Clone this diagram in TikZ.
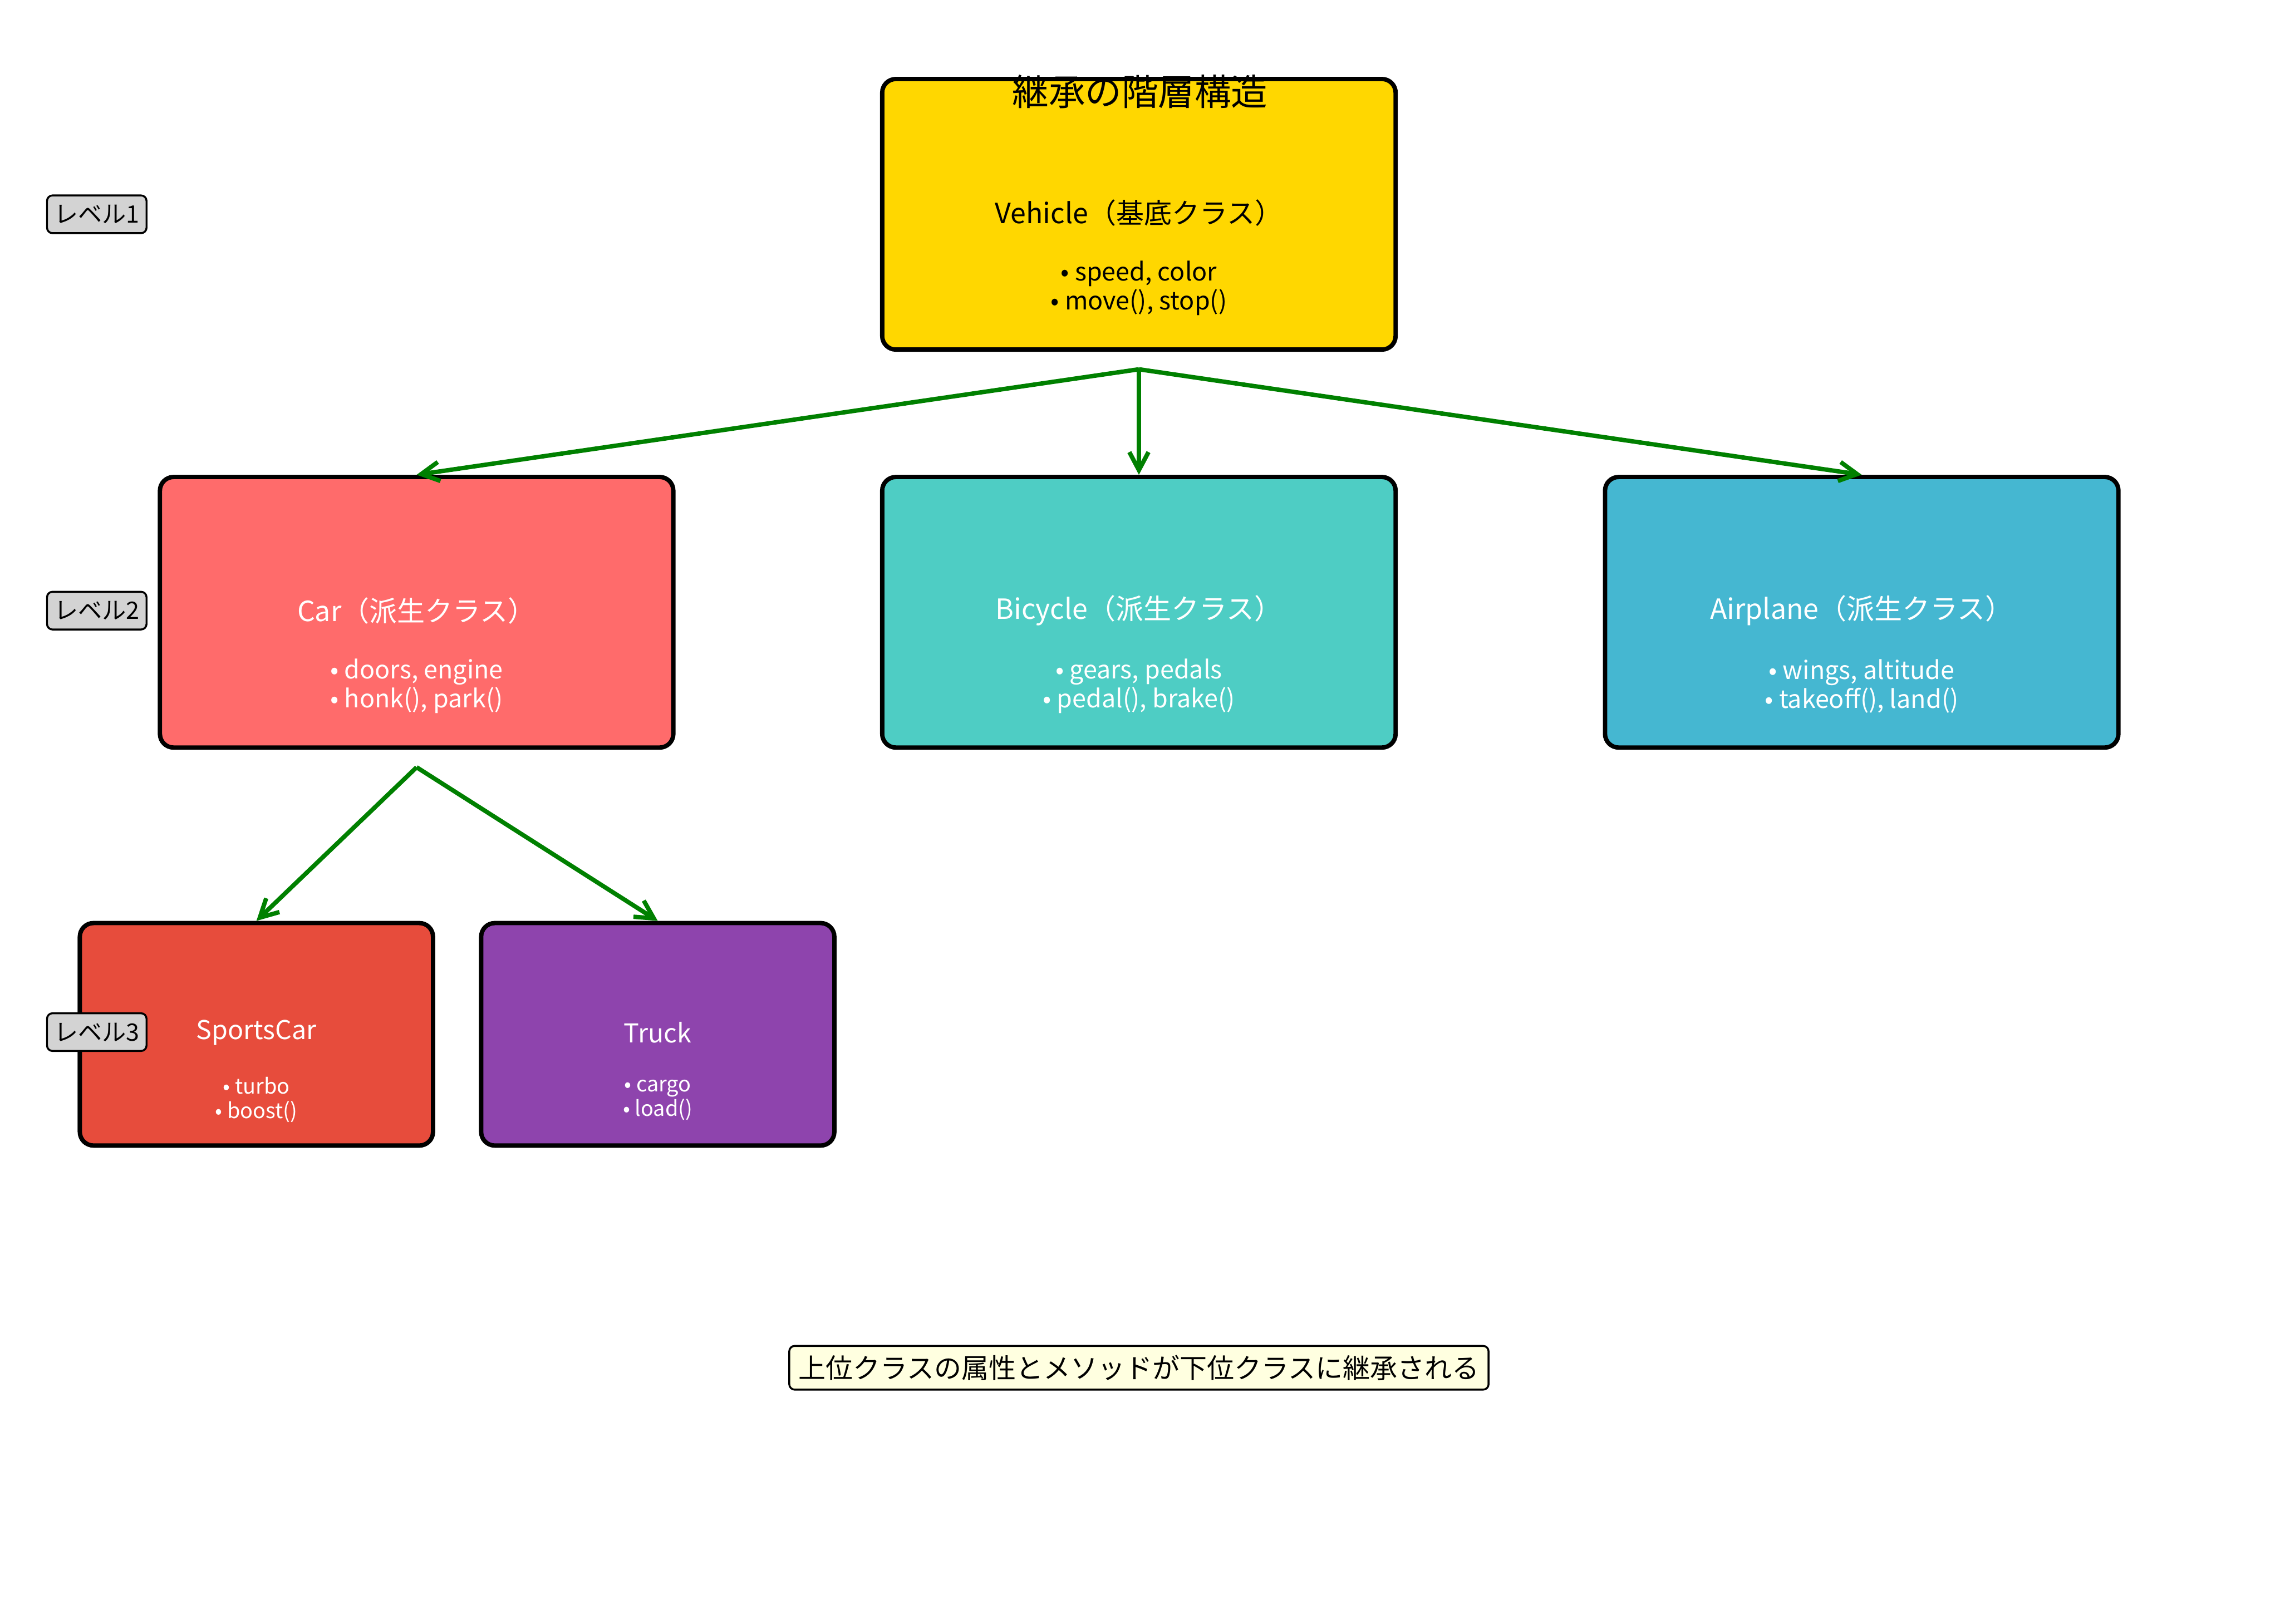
\documentclass[tikz,border=0pt]{standalone}
\usepackage{fontspec}
\setmainfont{Noto Sans CJK JP}
\usetikzlibrary{positioning,arrows.meta}

\definecolor{basegold}{HTML}{FFD700}
\definecolor{carred}{HTML}{FF6B6B}
\definecolor{bicycleteal}{HTML}{4ECDC4}
\definecolor{airplaneblue}{HTML}{45B7D1}
\definecolor{sportsred}{HTML}{E74C3C}
\definecolor{truckpurple}{HTML}{8E44AD}
\definecolor{arrowgreen}{HTML}{008000}
\definecolor{lvlgray}{HTML}{D3D3D3}
\definecolor{noteyellow}{HTML}{FFFFE0}

\begin{document}
\begin{tikzpicture}[
  cls/.style={draw, line width=0.8mm, rounded corners=2.5mm, minimum width=9.39cm, minimum height=4.95cm, inner sep=0pt},
  subcls/.style={cls, minimum width=6.46cm, minimum height=4.07cm},
  clsname/.style={font=\fontsize{14.5}{17}\selectfont},
  subname/.style={font=\fontsize{13.5}{16}\selectfont},
  members/.style={align=center, font=\fontsize{13}{15.1}\selectfont},
  submembers/.style={align=center, font=\fontsize{11}{12.8}\selectfont},
  lvl/.style={draw, fill=lvlgray, line width=0.35mm, rounded corners=1mm, minimum width=1.82cm, minimum height=0.69cm, inner sep=0pt, font=\fontsize{12.5}{14}\selectfont},
  inherit/.style={draw=arrowgreen, line width=0.8mm, -{Straight Barb[length=3.3mm,width=3.5mm]}}
]
% page size follows the reference (1 cm = 100 px)
\useasboundingbox (0,0) rectangle (41.7,-29.7);

% Column x-positions
\def\cA{7.62}
\def\cB{20.83}
\def\cC{34.05}
\def\cS{4.69}
\def\cT{12.03}

% Row y-positions (centres)
\def\rA{-3.92}
\def\rB{-11.20}
\def\rC{-18.92}

% Level 1: base class
\node[cls, fill=basegold] (vehicle) at (\cB,\rA) {};
\node[clsname] (vehicle-name) at ([yshift=0.03cm]vehicle.center) {Vehicle（基底クラス）};
\node[members] (vehicle-mem) at ([yshift=-1.35cm]vehicle.center) {• speed, color\\• move(), stop()};

% Level 2: derived classes
\node[cls, fill=carred] (car) at (\cA,\rB) {};
\node[clsname, text=white] (car-name) at ([yshift=0.03cm]car.center) {Car（派生クラス）};
\node[members, text=white] (car-mem) at ([yshift=-1.35cm]car.center) {• doors, engine\\• honk(), park()};

\node[cls, fill=bicycleteal] (bicycle) at (\cB,\rB) {};
\node[clsname, text=white] (bicycle-name) at ([yshift=0.03cm]bicycle.center) {Bicycle（派生クラス）};
\node[members, text=white] (bicycle-mem) at ([yshift=-1.35cm]bicycle.center) {• gears, pedals\\• pedal(), brake()};

\node[cls, fill=airplaneblue] (airplane) at (\cC,\rB) {};
\node[clsname, text=white] (airplane-name) at ([yshift=0.03cm]airplane.center) {Airplane（派生クラス）};
\node[members, text=white] (airplane-mem) at ([yshift=-1.35cm]airplane.center) {• wings, altitude\\• takeoff(), land()};

% Level 3: subclasses of Car
\node[subcls, fill=sportsred] (sportscar) at (\cS,\rC) {};
\node[subname, text=white] (sportscar-name) at ([yshift=0.03cm]sportscar.center) {SportsCar};
\node[submembers, text=white] (sportscar-mem) at ([yshift=-1.2cm]sportscar.center) {• turbo\\• boost()};

\node[subcls, fill=truckpurple] (truck) at (\cT,\rC) {};
\node[subname, text=white] (truck-name) at ([yshift=0.03cm]truck.center) {Truck};
\node[submembers, text=white] (truck-mem) at ([yshift=-1.2cm]truck.center) {• cargo\\• load()};

% inheritance arrows
\draw[inherit] ([yshift=-0.32cm]vehicle.south) -- (car.north);
\draw[inherit] ([yshift=-0.32cm]vehicle.south) -- (bicycle.north);
\draw[inherit] ([yshift=-0.32cm]vehicle.south) -- (airplane.north);
\draw[inherit] ([yshift=-0.32cm]car.south) -- (sportscar.north);
\draw[inherit] ([yshift=-0.32cm]car.south) -- (truck.north);

% level tags
\node[lvl] (lvl1) at (1.77,\rA) {レベル1};
\node[lvl] (lvl2) at (1.77,-11.17) {レベル2};
\node[lvl] (lvl3) at (1.77,-18.88) {レベル3};

% title and note
\node[font=\fontsize{19}{22}\selectfont] (title) at (20.85,-1.68) {継承の階層構造};
\node[draw, fill=noteyellow, line width=0.35mm, rounded corners=1mm, minimum width=12.79cm, minimum height=0.8cm, inner sep=0pt, font=\fontsize{14.2}{17}\selectfont] (note) at (20.83,-25.02) {上位クラスの属性とメソッドが下位クラスに継承される};

\end{tikzpicture}
\end{document}
